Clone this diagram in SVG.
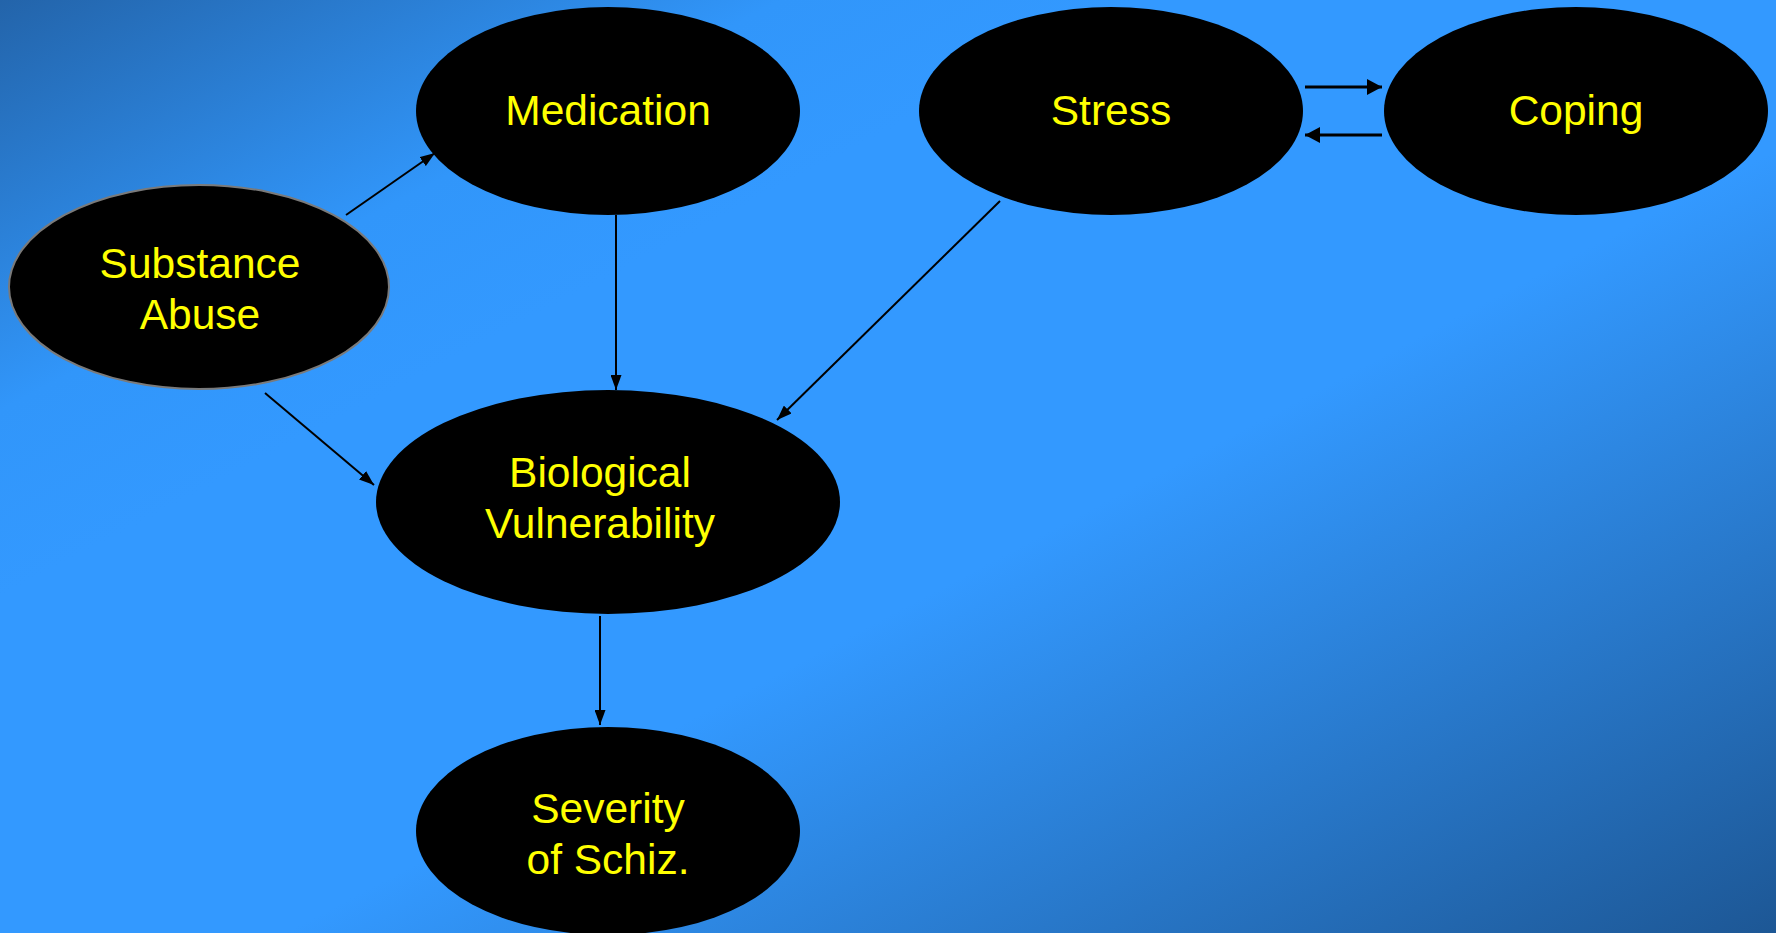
<svg xmlns="http://www.w3.org/2000/svg" width="1776" height="933" viewBox="0 0 1776 933">
<defs>
<linearGradient id="bg" x1="0" y1="0" x2="1" y2="1">
<stop offset="0" stop-color="#2364aa"/>
<stop offset="0.22" stop-color="#3196fa"/>
<stop offset="0.32" stop-color="#3399ff"/>
<stop offset="0.58" stop-color="#3399ff"/>
<stop offset="1" stop-color="#1d5795"/>
</linearGradient>
<marker id="ah" viewBox="0 0 15 11" refX="15" refY="5.5" markerWidth="15" markerHeight="11" markerUnits="userSpaceOnUse" orient="auto">
<path d="M0,0 L15,5.5 L0,11 Z" fill="#000"/>
</marker>
<marker id="ahb" viewBox="0 0 15 16" refX="15" refY="8" markerWidth="15" markerHeight="16" markerUnits="userSpaceOnUse" orient="auto">
<path d="M0,0 L15,8 L0,16 Z" fill="#000"/>
</marker>
</defs>
<style>
.node{fill:#000;}
.lbl{fill:#ffff00;font-family:"Liberation Sans",Arial,sans-serif;font-size:42.5px;text-anchor:middle;}
.c{stroke:#000;stroke-width:2;fill:none;marker-end:url(#ah);}
.cb{stroke:#000;stroke-width:3;fill:none;marker-end:url(#ahb);}
</style>
<rect x="0" y="0" width="1776" height="933" fill="url(#bg)"/>
<g id="connectors">
<line class="c" x1="346" y1="215" x2="435" y2="153"/>
<line class="c" x1="616" y1="215" x2="616" y2="390"/>
<line class="c" x1="1000" y1="201" x2="777" y2="420"/>
<line class="c" x1="265" y1="393" x2="374" y2="485"/>
<line class="c" x1="600" y1="616" x2="600" y2="725"/>
<line class="cb" x1="1305" y1="87" x2="1382" y2="87"/>
<line class="cb" x1="1382" y1="135" x2="1305" y2="135"/>
</g>
<g id="medication">
<ellipse class="node" cx="608" cy="111" rx="192" ry="104"/>
<text class="lbl" x="608" y="125">Medication</text>
</g>
<g id="stress">
<ellipse class="node" cx="1111" cy="111" rx="192" ry="104"/>
<text class="lbl" x="1111" y="125">Stress</text>
</g>
<g id="coping">
<ellipse class="node" cx="1576" cy="111" rx="192" ry="104"/>
<text class="lbl" x="1576" y="125">Coping</text>
</g>
<g id="substance-abuse">
<ellipse class="node" cx="199" cy="287" rx="190" ry="102" stroke="#7a7a7a" stroke-width="2"/>
<text class="lbl" x="200" y="278">Substance</text>
<text class="lbl" x="200" y="329">Abuse</text>
</g>
<g id="biological-vulnerability">
<ellipse class="node" cx="608" cy="502" rx="232" ry="112"/>
<text class="lbl" x="600" y="487">Biological</text>
<text class="lbl" x="600" y="538">Vulnerability</text>
</g>
<g id="severity">
<ellipse class="node" cx="608" cy="831" rx="192" ry="104"/>
<text class="lbl" x="608" y="823">Severity</text>
<text class="lbl" x="608" y="874">of Schiz.</text>
</g>
</svg>
